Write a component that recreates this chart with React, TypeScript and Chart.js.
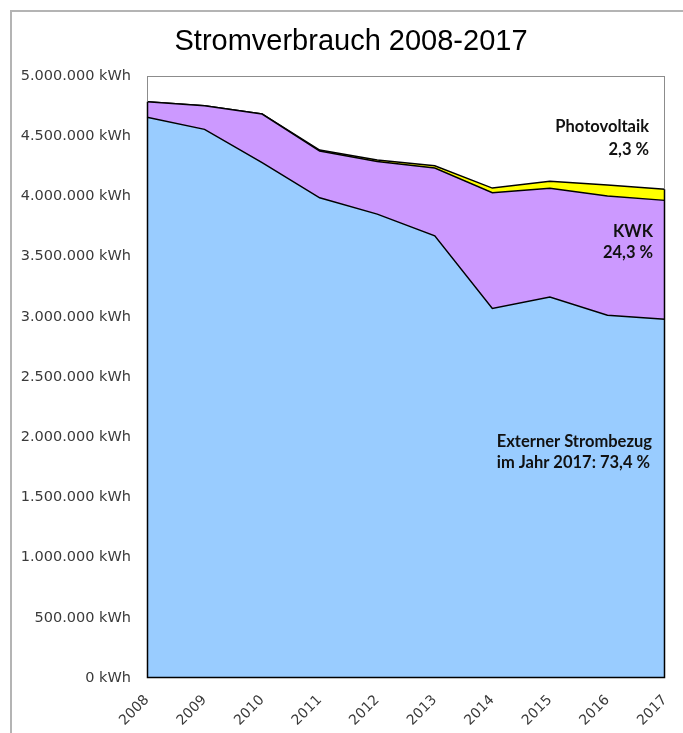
import React, { useEffect, useRef } from "react";
import { Chart, registerables } from "chart.js";

Chart.register(...registerables);

const years = ["2008", "2009", "2010", "2011", "2012", "2013", "2014", "2015", "2016", "2017"];
const externerStrombezug = [4657000, 4557000, 4280000, 3988000, 3853000, 3672000, 3069000, 3165000, 3013000, 2980000];
const kwk = [129000, 196000, 404000, 389000, 436000, 563000, 961000, 902000, 991000, 987000];
const photovoltaik = [0, 0, 0, 8000, 13000, 19000, 39000, 58000, 90000, 93000];
const yTicks = [0, 500000, 1000000, 1500000, 2000000, 2500000, 3000000, 3500000, 4000000, 4500000, 5000000];

const titleText = "Stromverbrauch 2008-2017";
const pvLabel = ["Photovoltaik", "2,3 %"];
const kwkLabel = ["KWK", "24,3 %"];
const extLabel = ["Externer Strombezug", "im Jahr 2017: 73,4 %"];

function fmt(v: number): string {
  return String(v).replace(/\B(?=(\d{3})+(?!\d))/g, ".") + " kWh";
}

const decor = {
  id: "decor",
  beforeDraw(chart: any) {
    const ctx = chart.ctx;
    ctx.save();
    ctx.fillStyle = "#ffffff";
    ctx.fillRect(0, 0, chart.width, chart.height);
    // outer frame
    ctx.strokeStyle = "#b4b4b4";
    ctx.lineWidth = 2;
    ctx.beginPath();
    ctx.moveTo(11, chart.height + 5);
    ctx.lineTo(11, 11);
    ctx.lineTo(chart.width + 5, 11);
    ctx.stroke();
    // title
    ctx.fillStyle = "#000000";
    ctx.font = "29px 'Liberation Sans'";
    ctx.textAlign = "center";
    ctx.textBaseline = "middle";
    ctx.fillText(titleText, 351, 42);
    ctx.restore();
  },
  afterDatasetsDraw(chart: any) {
    const ctx = chart.ctx;
    const a = chart.chartArea;
    const ys = chart.scales.y;
    const n = years.length - 1;
    ctx.save();
    // plot border
    ctx.strokeStyle = "#8c8c8c";
    ctx.lineWidth = 1;
    ctx.strokeRect(a.left + 0.5, a.top + 0.5, a.right - a.left - 1, a.bottom - a.top - 1);
    // area outlines on edges
    const topFirst = ys.getPixelForValue(externerStrombezug[0] + kwk[0] + photovoltaik[0]);
    const topLast = ys.getPixelForValue(externerStrombezug[n] + kwk[n] + photovoltaik[n]);
    ctx.strokeStyle = "#000000";
    ctx.lineWidth = 1.5;
    ctx.beginPath();
    ctx.moveTo(a.left + 0.5, topFirst);
    ctx.lineTo(a.left + 0.5, a.bottom - 0.5);
    ctx.lineTo(a.right - 0.5, a.bottom - 0.5);
    ctx.lineTo(a.right - 0.5, topLast);
    ctx.stroke();
    // annotations
    ctx.fillStyle = "#111111";
    ctx.font = "bold 16.5px Lato";
    ctx.textAlign = "right";
    ctx.textBaseline = "middle";
    ctx.fillText(pvLabel[0], a.right - 16, 127);
    ctx.fillText(pvLabel[1], a.right - 16, 150);
    ctx.fillText(kwkLabel[0], a.right - 12, 232);
    ctx.fillText(kwkLabel[1], a.right - 12, 253);
    ctx.fillText(extLabel[0], a.right - 13, 442);
    ctx.fillText(extLabel[1], a.right - 15, 463);
    ctx.restore();
  },
};

export default function App() {
  const ref = useRef<HTMLCanvasElement | null>(null);
  useEffect(() => {
    if (!ref.current) return;
    const chart = new Chart(ref.current, {
      type: "line",
      data: {
        labels: years,
        datasets: [
          {
            label: "Externer Strombezug",
            data: externerStrombezug,
            backgroundColor: "#99ccff",
            borderColor: "#000000",
            borderWidth: 1.5,
            fill: "origin",
            pointRadius: 0,
            tension: 0,
          },
          {
            label: "KWK",
            data: kwk,
            backgroundColor: "#cc99ff",
            borderColor: "#000000",
            borderWidth: 1.5,
            fill: "-1",
            pointRadius: 0,
            tension: 0,
          },
          {
            label: "Photovoltaik",
            data: photovoltaik,
            backgroundColor: "#ffff00",
            borderColor: "#000000",
            borderWidth: 1.5,
            fill: "-1",
            pointRadius: 0,
            tension: 0,
          },
        ],
      },
      options: {
        responsive: false,
        animation: false,
        devicePixelRatio: 1,
        layout: { padding: { top: 76, right: 18, left: 0, bottom: 0 } },
        plugins: {
          legend: { display: false },
          title: { display: false },
          tooltip: { enabled: false },
          filler: { propagate: false },
        },
        scales: {
          x: {
            offset: false,
            grid: { display: false },
            border: { display: false },
            ticks: {
              minRotation: 45,
              maxRotation: 45,
              padding: 6,
              color: "#3a3a3a",
              font: { family: "'DejaVu Sans'", size: 14 },
            },
            afterFit(scale: any) {
              scale.height = 55;
            },
          },
          y: {
            stacked: true,
            min: 0,
            max: 5000000,
            grid: { display: false, drawTicks: false },
            border: { display: false },
            afterBuildTicks(scale: any) {
              scale.ticks = yTicks.map((v) => ({ value: v }));
            },
            ticks: {
              padding: 16,
              color: "#3a3a3a",
              font: { family: "'DejaVu Sans'", size: 14.5 },
              callback: (v: any) => fmt(Number(v)),
            },
            afterFit(scale: any) {
              scale.width = 147;
            },
          },
        },
      },
      plugins: [decor],
    });
    return () => chart.destroy();
  }, []);
  return (
    <div style={{ position: "fixed", left: 0, top: 0, width: 683, height: 733, background: "#fff", overflow: "hidden" }}>
      <canvas ref={ref} width={683} height={733} style={{ display: "block", width: 683, height: 733 }} />
    </div>
  );
}
